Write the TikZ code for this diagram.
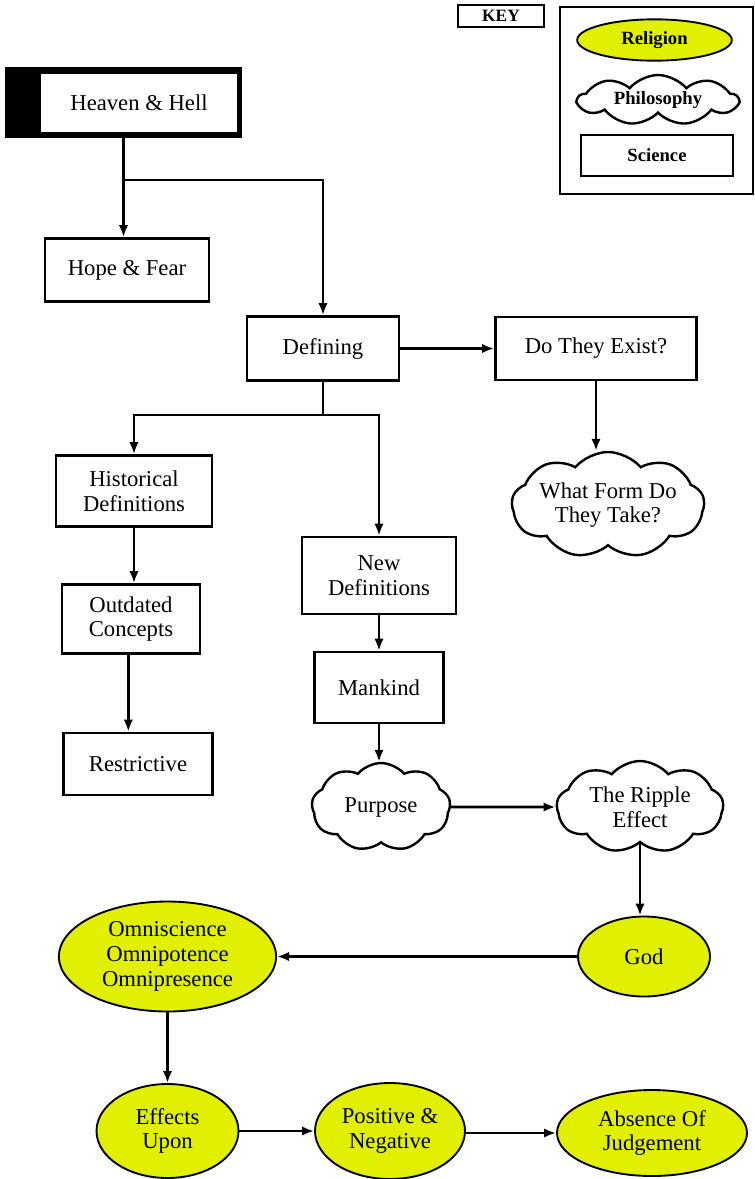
\documentclass[tikz,border=0pt]{standalone}
\usepackage{fontspec}
\setmainfont{Liberation Serif}
\usetikzlibrary{shapes.geometric, shapes.symbols, arrows.meta}
\definecolor{relyellow}{RGB}{224,240,0}

\begin{document}
\begin{tikzpicture}[x=0.75pt, y=-0.75pt, >={Latex[length=9pt,width=7pt]},
    every node/.style={font=\fontsize{17}{18.5}\selectfont, align=center},
    sci/.style={draw, line width=2pt, rectangle, inner sep=2pt},
    rel/.style={draw, line width=1.4pt, ellipse, fill=relyellow, inner sep=0pt},
    phil/.style={draw, line width=1.8pt, cloud, cloud puffs=9, cloud puff arc=100,
        cloud ignores aspect, inner sep=0pt},
    keyfont/.style={font=\fontsize{14}{16}\bfseries},
    conn/.style={line width=2pt, ->}]
    \useasboundingbox (0,0) rectangle (754,1179);

    % key
    \node[draw, line width=1.2pt, minimum width=64.5pt, minimum height=16.5pt, inner sep=0pt,
        font=\fontsize{13}{15}\bfseries] (key) at (501,16) {KEY};
    \draw[line width=1.2pt] (560,7) rectangle (753,194);
    \node[rel, keyfont, minimum width=116pt, minimum height=31pt] (krel) at (654.5,40) {Religion};
    \node[phil, keyfont, minimum width=120pt, minimum height=37.5pt] (kphil) at (658,100) {Philosophy};
    \node[sci, keyfont, minimum width=114pt, minimum height=30.75pt] (ksci) at (657,155.5) {Science};

    % science boxes
    \node[fill=black, minimum width=177.75pt, minimum height=53.25pt, inner sep=0pt] (hhback) at (123.5,102.5) {};
    \node[fill=white, minimum width=147pt, minimum height=43.5pt, inner sep=0pt] (hh) at (139,103) {Heaven \& Hell};
    \node[sci, minimum width=123pt, minimum height=47.25pt] (hf) at (127,270) {Hope \& Fear};
    \node[sci, minimum width=114pt, minimum height=48pt] (def) at (323,348.5) {Defining};
    \node[sci, minimum width=150.75pt, minimum height=47.25pt] (dte) at (596,348.5) {Do They Exist?};
    \node[sci, minimum width=117pt, minimum height=53.25pt] (hist) at (134,491) {Historical\\Definitions};
    \node[sci, minimum width=103.5pt, minimum height=51.75pt] (out) at (131,619) {Outdated\\Concepts};
    \node[sci, minimum width=111.75pt, minimum height=46.5pt] (res) at (138,764) {Restrictive};
    \node[sci, minimum width=115.5pt, minimum height=57.75pt] (nd) at (379,575.5) {New\\Definitions};
    \node[sci, minimum width=96.75pt, minimum height=53.25pt] (man) at (379,687.5) {Mankind};

    % philosophy clouds
    \node[phil, minimum width=142.5pt, minimum height=79.5pt] (wf) at (608,505) {What Form Do\\They Take?};
    \node[phil, minimum width=104pt, minimum height=66pt] (pur) at (381,807) {Purpose};
    \node[phil, minimum width=125pt, minimum height=69pt] (rip) at (640,807) {The Ripple\\Effect};

    % religion ellipses
    \node[rel, minimum width=99pt, minimum height=60pt] (god) at (644,956.5) {God};
    \node[rel, minimum width=163pt, minimum height=82.5pt] (omni) at (167.5,956.5) {Omniscience\\Omnipotence\\Omnipresence};
    \node[rel, minimum width=106.5pt, minimum height=70.5pt] (eff) at (167.5,1131) {Effects\\Upon};
    \node[rel, minimum width=112.5pt, minimum height=72pt] (pos) at (390,1131) {Positive \&\\Negative};
    \node[rel, minimum width=142.5pt, minimum height=64.5pt] (abs) at (652,1133) {Absence Of\\Judgement};

    % connectors
    \coordinate (branch) at (123.5,180);
    \draw[conn] (hhback.south) -- (hhback.south |- hf.north);
    \draw[conn] (branch) -| (def.north);
    \draw[line width=2pt] (def.south) -- ++(0,33) coordinate (split);
    \draw[conn] (split) -| (hist.north);
    \draw[conn] (split) -| (nd.north);
    \draw[conn] (dte.south) -- (dte.south |- wf.north);
    \draw[conn] (hist.south) -- (hist.south |- out.north);
    \draw[conn] ([xshift=-2pt]out.south) -- ([xshift=-2pt]out.south |- res.north);
    \draw[conn] (man.south) -- (man.south |- pur.north);
    \draw[conn] (rip.south) -- (rip.south |- god.north);
    \draw[conn] ([yshift=-1.5pt]pos.east) -- ([yshift=-1.5pt]pos.east -| abs.west);
    \foreach \a/\b in {def/dte, nd/man, pur/rip, god/omni, omni/eff, eff/pos}{\draw[conn] (\a) -- (\b);}
\end{tikzpicture}
\end{document}
